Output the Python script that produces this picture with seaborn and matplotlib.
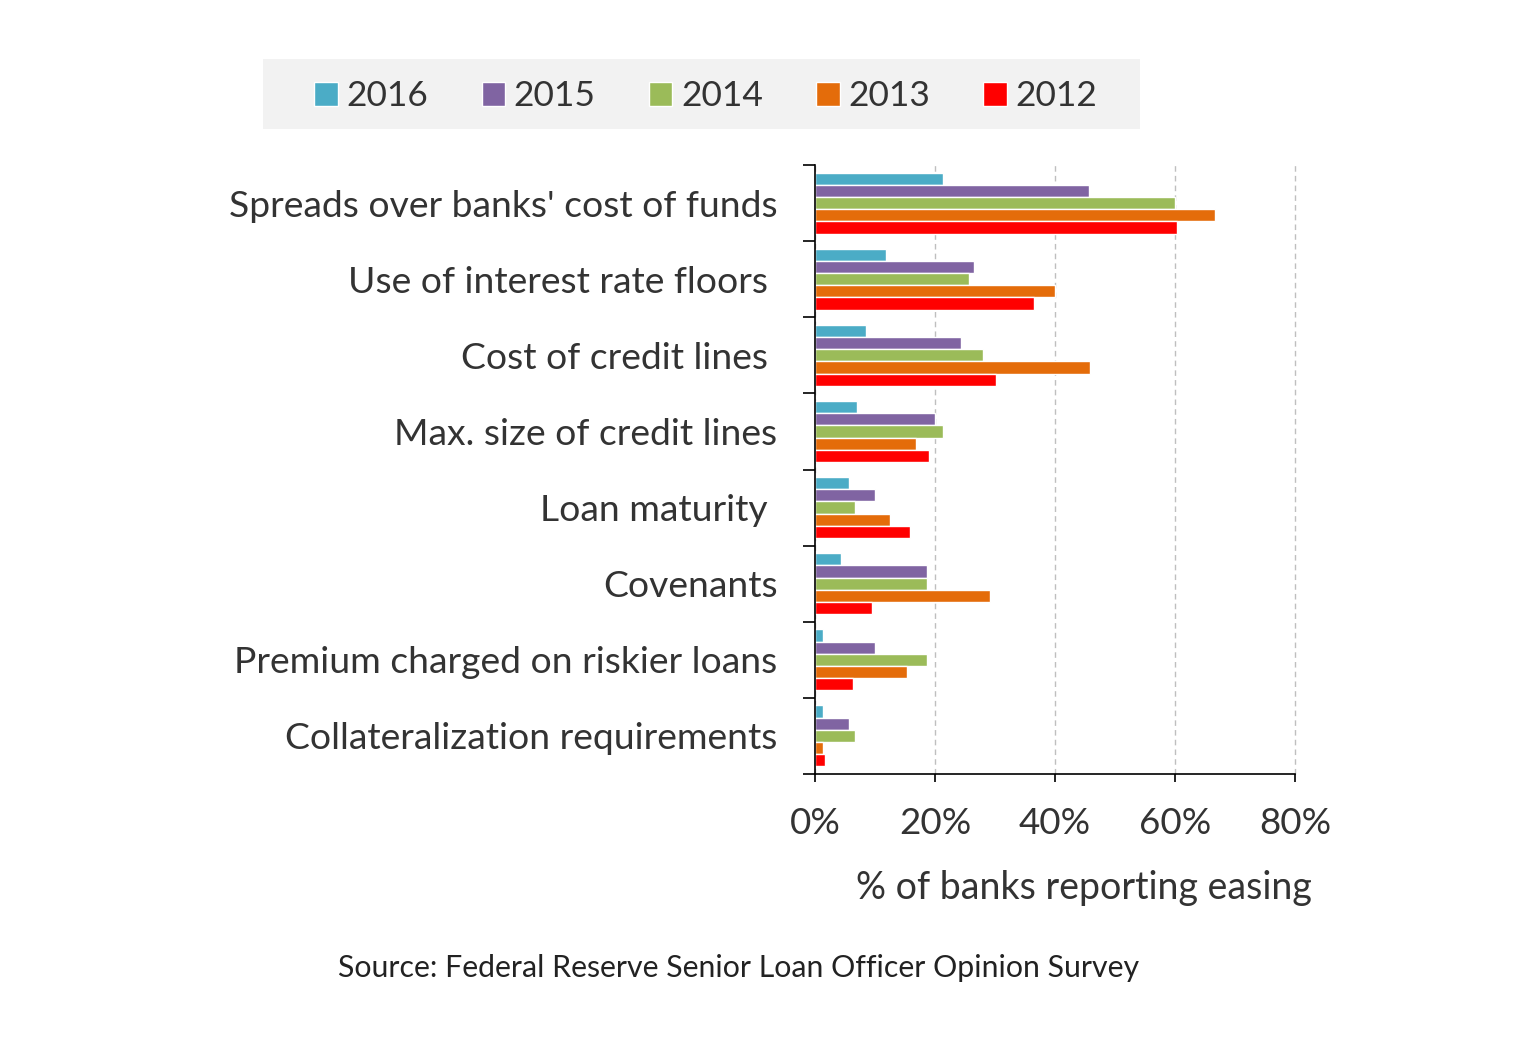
import numpy as np
import pandas as pd
import matplotlib
matplotlib.use("Agg")
import matplotlib.pyplot as plt
import seaborn as sns
from matplotlib.patches import Rectangle
from matplotlib.ticker import FixedLocator, PercentFormatter

# ==========================================
# DATA (% of banks)
# ==========================================

categories = [
    "Spreads over banks' cost of funds",
    "Use of interest rate floors ",
    "Cost of credit lines ",
    "Max. size of credit lines",
    "Loan maturity ",
    "Covenants",
    "Premium charged on riskier loans",
    "Collateralization requirements",
]
years = ["2016", "2015", "2014", "2013", "2012"]

easing_2016 = [21.3, 11.8, 8.5, 7.0, 5.7, 4.3, 1.3, 1.3]
easing_2015 = [45.7, 26.5, 24.3, 20.0, 10.0, 18.7, 10.0, 5.7]
easing_2014 = [60.0, 25.7, 28.0, 21.3, 6.7, 18.7, 18.7, 6.7]
easing_2013 = [66.7, 40.0, 45.8, 16.8, 12.5, 29.2, 15.3, 1.3]
easing_2012 = [60.3, 36.5, 30.2, 19.0, 15.8, 9.5, 6.3, 1.7]

colors = ["#4BACC6", "#8064A2", "#9BBB59", "#E46C0A", "#FF0000"]

df = pd.DataFrame({
    "category": categories * 5,
    "year": np.repeat(years, len(categories)),
    "value": easing_2016 + easing_2015 + easing_2014 + easing_2013 + easing_2012,
})

# ==========================================
# PLOT
# ==========================================

sns.set_style("white")
plt.rcParams["font.family"] = ["Lato", "DejaVu Sans"]
text_color = "#333333"

W, H = 1518, 1044
fig = plt.figure(figsize=(W / 100, H / 100), dpi=100)

ax_left, ax_right, ax_top, ax_bottom = 815, 1295, 165, 774
ax = fig.add_axes([ax_left / W, 1 - ax_bottom / H,
                   (ax_right - ax_left) / W, (ax_bottom - ax_top) / H])

sns.barplot(
    data=df, x="value", y="category", hue="year",
    hue_order=years, order=categories, palette=colors,
    width=0.8, saturation=1, orient="h", ax=ax,
)

ax.set_xlim(0, 80)
ax.set_ylim(len(categories) - 0.5, -0.5)
ax.xaxis.set_major_locator(FixedLocator([0, 20, 40, 60, 80]))
ax.xaxis.set_major_formatter(PercentFormatter(decimals=0))

ax.grid(axis="x", color="#bfbfbf", linestyle=(0, (4, 3)), linewidth=1)
ax.set_axisbelow(True)
for gl in ax.get_xgridlines():
    gl.set_clip_on(False)

for side in ["top", "right"]:
    ax.spines[side].set_visible(False)
for side in ["left", "bottom"]:
    ax.spines[side].set_color("black")
    ax.spines[side].set_linewidth(1.2)

ax.yaxis.set_minor_locator(FixedLocator(np.arange(-0.5, len(categories), 1)))
ax.tick_params(axis="y", which="major", length=0, pad=27,
               labelsize=26.8, labelcolor=text_color)
ax.tick_params(axis="y", which="minor", length=9, width=1.2,
               color="black", direction="out", left=True)
ax.tick_params(axis="x", which="major", length=6, width=1.2,
               color="black", direction="out", bottom=True, pad=18,
               labelsize=26.5, labelcolor=text_color)

ax.set_xlabel("")
ax.set_ylabel("")

# legend on a grey band
ax.get_legend().remove()
fig.patches.append(Rectangle((263 / W, 1 - 129 / H), (1140 - 263) / W, 70 / H,
                             transform=fig.transFigure, facecolor="#f2f2f2",
                             edgecolor="none", zorder=0))
handles = [Rectangle((0, 0), 1, 1, facecolor=c) for c in colors]
fig.legend(handles, years, loc="center", ncol=5,
           bbox_to_anchor=(706 / W, 1 - 96 / H),
           frameon=False, fontsize=25.5, labelcolor=text_color,
           handlelength=0.66, handleheight=0.66, handletextpad=0.25,
           columnspacing=1.5)

fig.text(1084 / W, 1 - 888 / H, "% of banks reporting easing",
         ha="center", va="center", fontsize=27, color=text_color)
fig.text(739 / W, 1 - 968 / H, "Source: Federal Reserve Senior Loan Officer Opinion Survey",
         ha="center", va="center", fontsize=21.8, color="#222222")

fig.savefig("out.png", dpi=100, facecolor="white")
